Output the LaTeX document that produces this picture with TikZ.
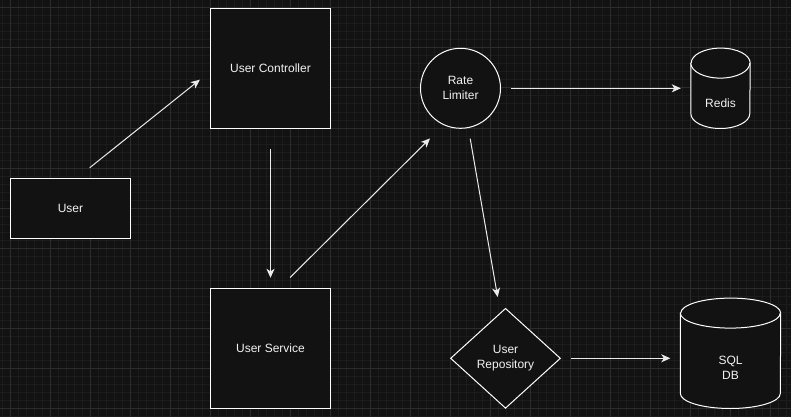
\documentclass[tikz,border=0pt]{standalone}
\usepackage{fontspec}
\setmainfont{Liberation Sans}
\usepackage{xcolor}
\usepackage{tikz}
\usetikzlibrary{positioning, arrows.meta, shapes.geometric}

\definecolor{sfondo}{HTML}{121212}
\definecolor{grigliafine}{HTML}{1C1C1C}
\definecolor{grigliagrossa}{HTML}{2C2C2C}
\definecolor{testo}{HTML}{F2F2F2}

\begin{document}
\begin{tikzpicture}[
  x=1pt, y=-1pt,
  every node/.style={
    font=\fontsize{12}{15}\selectfont,
    text=testo, align=center, inner sep=0pt
  },
  blocco/.style={rectangle, draw=white, fill=sfondo, line width=1pt},
  cerchio/.style={circle, draw=white, fill=sfondo, line width=1pt, minimum size=80pt},
  rombo/.style={diamond, draw=white, fill=sfondo, line width=1pt,
    minimum width=110pt, minimum height=100pt, aspect=1.1},
  corpo/.style={rectangle},
  cilindro/.style={draw=white, fill=sfondo, line width=1pt},
  freccia/.style={draw=white!92!black, line width=1pt,
    -{Stealth[length=9pt, width=8pt, inset=2.5pt]}}
]
% sfondo e griglia
\useasboundingbox (0,0) rectangle (791,417);
\fill[sfondo] (0,0) rectangle (791,417);
\foreach \x in {2,10,...,790} \draw[grigliafine, line width=1pt] (\x,0) -- (\x,417);
\foreach \y in {0,8,...,416} \draw[grigliafine, line width=1pt] (0,\y) -- (791,\y);
\foreach \x in {10,50,...,770} \draw[grigliagrossa, line width=1pt] (\x,0) -- (\x,417);
\foreach \y in {8,48,...,408} \draw[grigliagrossa, line width=1pt] (0,\y) -- (791,\y);

\node[blocco, minimum width=120pt, minimum height=60pt] (user) at (70.5,208.3) {User};
\node[blocco, minimum width=120pt, minimum height=120pt] (uc) at (270.5,68.3) {User Controller};
\node[blocco, minimum width=120pt, minimum height=120pt] (us) at (270.5,348.3) {User Service};
\node[cerchio] (rl) at (460.5,88.3) {Rate\\Limiter};
\node[rombo] (ur) at (505.5,358.3) {User\\Repository};

% cilindri: corpo come nodo, contorno disegnato a mano
\node[corpo, minimum width=59pt, minimum height=50pt] (redis) at (720.5,103.3) {};
\filldraw[cilindro] ([yshift=15pt]redis.north west) -- ([yshift=15pt]redis.south west)
  arc[start angle=180, end angle=0, x radius=29.5, y radius=15]
  -- ([yshift=15pt]redis.north east)
  arc[start angle=0, end angle=-180, x radius=29.5, y radius=15] -- cycle;
\draw[cilindro] ([yshift=15pt]redis.north west) arc[start angle=180, end angle=0, x radius=29.5, y radius=15];
\node at (redis) {Redis};

\node[corpo, minimum width=100pt, minimum height=80pt] (sql) at (730.5,368.3) {};
\filldraw[cilindro] ([yshift=15pt]sql.north west) -- ([yshift=15pt]sql.south west)
  arc[start angle=180, end angle=0, x radius=50, y radius=15]
  -- ([yshift=15pt]sql.north east)
  arc[start angle=0, end angle=-180, x radius=50, y radius=15] -- cycle;
\draw[cilindro] ([yshift=15pt]sql.north west) arc[start angle=180, end angle=0, x radius=50, y radius=15];
\node at (sql) {SQL\\DB};

% frecce
\draw[freccia, shorten <=16pt, shorten >=13pt] ([xshift=6.6pt]user.north) -- ([yshift=-3.3pt]uc.west);
\draw[freccia, shorten <=20pt, shorten >=10pt] (uc.south) -- (us.north);
\draw[freccia, shorten <=14.6pt, shorten >=13.7pt] ([xshift=9.2pt]us.north) -- ([xshift=-20.8pt]rl.south);
\draw[freccia, shorten <=10pt, shorten >=10pt] (rl.east) -- (rl.east -| redis.west);
\draw[freccia, shorten <=10pt, shorten >=11pt] ([xshift=8pt]rl.south) -- ([xshift=-6pt]ur.north);
\draw[freccia, shorten <=10pt, shorten >=10pt] (ur.east) -- (ur.east -| sql.west);
\end{tikzpicture}
\end{document}
